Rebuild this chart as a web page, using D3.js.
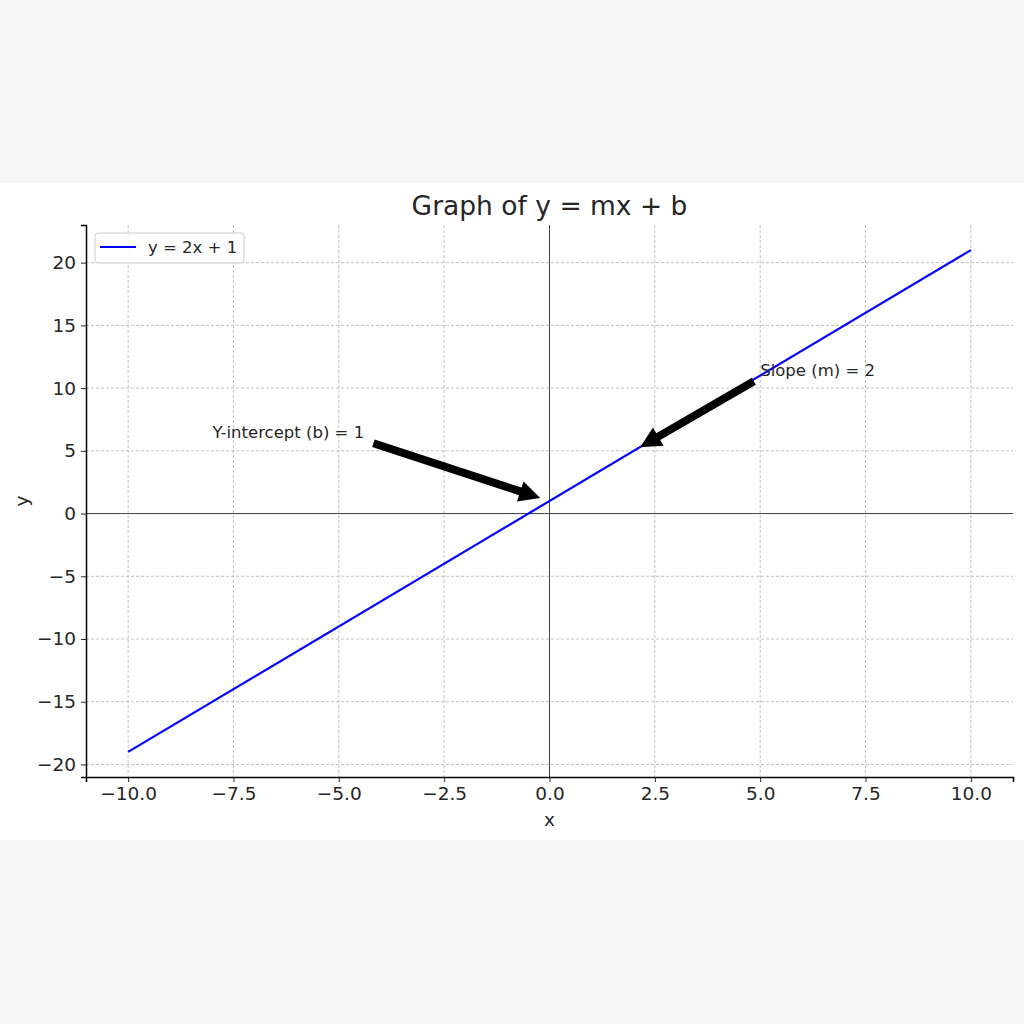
<!DOCTYPE html>
<meta charset="utf-8">
<style>
body { margin: 0; background: #f7f8f7; }
text { font-family: "DejaVu Sans", sans-serif; fill: #262626; }
</style>
<svg width="1024" height="1024"></svg>
<script src="https://cdn.jsdelivr.net/npm/d3@7"></script>
<script>

var xs = [-10, 10]
var slope = 2, intercept = 1
var xTicks = [-10, -7.5, -5, -2.5, 0, 2.5, 5, 7.5, 10]
var yTicks = [-20, -15, -10, -5, 0, 5, 10, 15, 20]
var notes = [
  {label: "Y-intercept (b) = 1", at: [0, 1], from: [-8, 6]},
  {label: "Slope (m) = 2", at: [2, 5], from: [5, 11]}
]

var svg = d3.select("svg")
var mLeft = 86, mRight = 1013, mTop = 225, mBottom = 777

svg.append("rect").attr("x", 0).attr("y", 183).attr("width", 1024).attr("height", 657).attr("fill", "#fff")

var x = d3.scaleLinear().domain([-11, 11]).range([mLeft, mRight])
var y = d3.scaleLinear().domain([-21, 23]).range([mBottom, mTop])

var minus = function(v) { return String(v).replace("-", "\u2212") }

// grid
var grid = svg.append("g").attr("stroke", "#b0b0b0").attr("stroke-width", 0.8).attr("stroke-dasharray", "3,2")
grid.selectAll(".gx").data(xTicks).enter().append("line")
    .attr("x1", function(d) { return x(d) }).attr("x2", function(d) { return x(d) })
    .attr("y1", mTop).attr("y2", mBottom)
grid.selectAll(".gy").data(yTicks).enter().append("line")
    .attr("y1", function(d) { return y(d) }).attr("y2", function(d) { return y(d) })
    .attr("x1", mLeft).attr("x2", mRight)

// zero lines
svg.append("line").attr("x1", x(0)).attr("x2", x(0)).attr("y1", mTop).attr("y2", mBottom)
    .attr("stroke", "#444").attr("stroke-width", 1)
svg.append("line").attr("x1", mLeft).attr("x2", mRight).attr("y1", y(0)).attr("y2", y(0))
    .attr("stroke", "#444").attr("stroke-width", 1)

// line
var line = d3.line().x(function(d) { return x(d) }).y(function(d) { return y(slope * d + intercept) })
svg.append("path").datum(xs).attr("d", line).attr("fill", "none").attr("stroke", "#0000ff").attr("stroke-width", 2.2)

// axes
svg.append("g").attr("transform", "translate(0," + mBottom + ")")
    .call(d3.axisBottom(x).tickValues(xTicks).tickFormat(function(d) { return minus(d.toFixed(1)) }).tickSizeOuter(0).tickSize(5).tickPadding(5))
svg.append("g").attr("transform", "translate(" + mLeft + ",0)")
    .call(d3.axisLeft(y).tickValues(yTicks).tickFormat(function(d) { return minus(d) }).tickSizeOuter(0).tickSize(5).tickPadding(5))
svg.selectAll(".tick text").attr("font-size", 18.5).attr("font-family", "DejaVu Sans").attr("fill", "#262626")
svg.selectAll(".domain").attr("stroke", "#000").attr("stroke-width", 1.5)
svg.selectAll(".tick line").attr("stroke", "#262626")

// labels
svg.append("text").attr("x", (mLeft + mRight) / 2).attr("y", 215).attr("text-anchor", "middle").attr("font-size", 26.5).text("Graph of y = mx + b")
svg.append("text").attr("x", x(0)).attr("y", 826).attr("text-anchor", "middle").attr("font-size", 18.5).text("x")
svg.append("text").attr("transform", "translate(28," + (mTop + mBottom) / 2 + ") rotate(-90)").attr("text-anchor", "middle").attr("font-size", 18.5).text("y")

// legend
var lg = svg.append("g")
lg.append("rect").attr("x", 95).attr("y", 233).attr("width", 149).attr("height", 30).attr("rx", 3)
    .attr("fill", "#fff").attr("fill-opacity", 0.8).attr("stroke", "#ccc")
lg.append("line").attr("x1", 100).attr("x2", 136).attr("y1", 247).attr("y2", 247).attr("stroke", "#0000ff").attr("stroke-width", 2.2)
lg.append("text").attr("x", 148).attr("y", 253).attr("font-size", 16.5).text("y = 2x + 1")

// annotations
function arrow(x0, y0, x1, y1) {
  var dx = x1 - x0, dy = y1 - y0, L = Math.sqrt(dx * dx + dy * dy)
  var ux = dx / L, uy = dy / L, px = -uy, py = ux
  var w = 4, hw = 10.5, hl = 21
  var bx = x1 - ux * hl, by = y1 - uy * hl
  return [[x0 + px * w, y0 + py * w], [bx + px * w, by + py * w], [bx + px * hw, by + py * hw], [x1, y1],
          [bx - px * hw, by - py * hw], [bx - px * w, by - py * w], [x0 - px * w, y0 - py * w]]
}

// pick the bbox edge/corner closest to the target, like matplotlib does
function nearest(v, lo, hi) {
  var c = [lo, (lo + hi) / 2, hi]
  return c.reduce(function(a, b) { return Math.abs(b - v) < Math.abs(a - v) ? b : a })
}

notes.forEach(function(n) {
  var t = svg.append("text").attr("x", x(n.from[0])).attr("y", y(n.from[1])).attr("font-size", 16.5).text(n.label)
  var b = t.node().getBBox()
  var ax = x(n.at[0]), ay = y(n.at[1])
  var sx = nearest(ax, b.x, b.x + b.width), sy = nearest(ay, b.y + 2, b.y + b.height - 2)
  var dx = ax - sx, dy = ay - sy
  var p = arrow(sx + dx * 0.05, sy + dy * 0.05, ax - dx * 0.05, ay - dy * 0.05)
  svg.append("polygon").attr("points", p.map(function(q) { return q.join(",") }).join(" ")).attr("fill", "#000")
})

</script>
